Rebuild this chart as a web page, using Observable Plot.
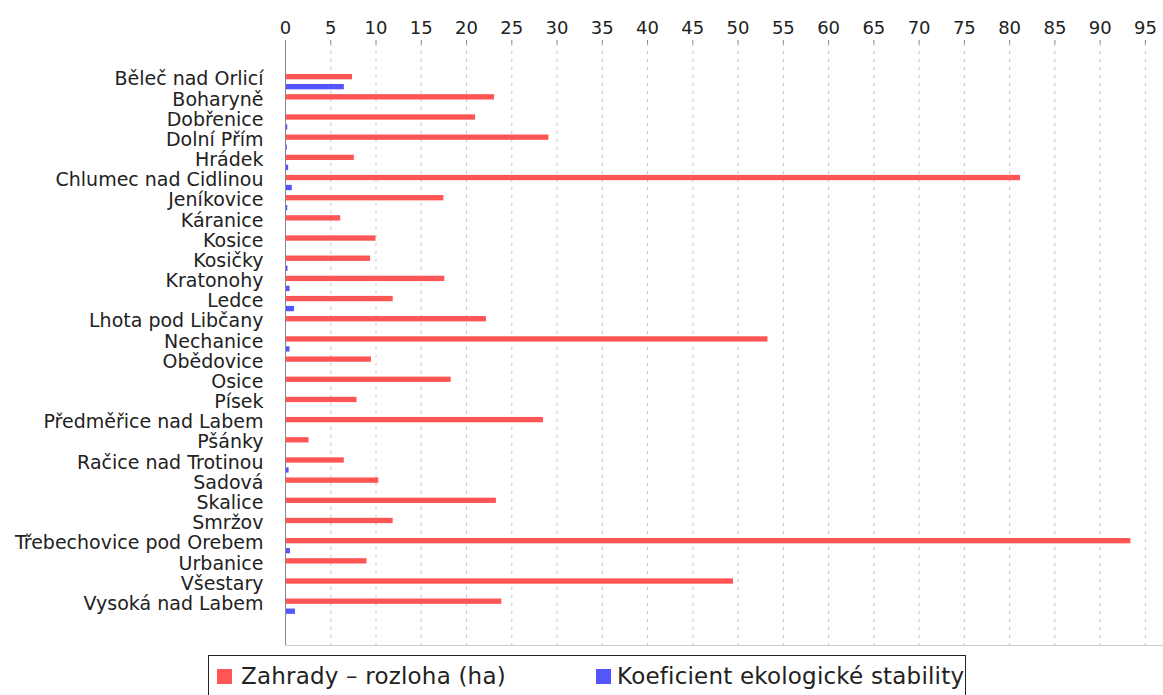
<!DOCTYPE html>
<html>
<head>
<meta charset="utf-8">
<script src="https://cdn.jsdelivr.net/npm/d3@7"></script>
<script src="https://cdn.jsdelivr.net/npm/@observablehq/plot@0.6"></script>
<style>
  html, body { margin: 0; padding: 0; background: #fff; }
  #chart svg { display: block; }
  .legend {
    margin-left: 208px; margin-top: 7px; width: 758px; height: 44px;
    border: 1.5px solid #222; box-sizing: border-box;
    font-family: "DejaVu Sans", sans-serif; font-size: 23px; color: #222;
    position: relative; letter-spacing: 0.2px;
  }
  .legend .item { position: absolute; top: 7px; display: flex; align-items: center; }
  .legend .sw { width: 15px; height: 15px; }
</style>
</head>
<body>
<div id="chart"></div>
<div class="legend">
  <div class="item" style="left:8px"><span class="sw" style="background:#FF5555;margin-right:9px"></span><span id="l1"></span></div>
  <div class="item" style="left:387px"><span class="sw" style="background:#5555FF;margin-right:6px"></span><span id="l2"></span></div>
</div>
<script>
const towns = ["Běleč nad Orlicí","Boharyně","Dobřenice","Dolní Přím","Hrádek","Chlumec nad Cidlinou","Jeníkovice","Káranice","Kosice","Kosičky","Kratonohy","Ledce","Lhota pod Libčany","Nechanice","Obědovice","Osice","Písek","Předměřice nad Labem","Pšánky","Račice nad Trotinou","Sadová","Skalice","Smržov","Třebechovice pod Orebem","Urbanice","Všestary","Vysoká nad Labem"];
const zahrady = [7.4,23.1,21.0,29.1,7.6,81.2,17.5,6.1,10.0,9.4,17.6,11.9,22.2,53.3,9.5,18.3,7.9,28.5,2.6,6.5,10.3,23.3,11.9,93.4,9.0,49.5,23.9];
const koeficient = [6.5,0.05,0.25,0.2,0.35,0.75,0.25,0.05,0.05,0.28,0.5,1.0,0.05,0.5,0.05,0.05,0.05,0.05,0.05,0.4,0.1,0.05,0.05,0.55,0.05,0.05,1.1];
const seriesNames = ["Zahrady – rozloha (ha)", "Koeficient ekologické stability"];
const seriesColors = ["#FF5555", "#5555FF"];
const xTicks = [0,5,10,15,20,25,30,35,40,45,50,55,60,65,70,75,80,85,90,95];

const redData = towns.map((t, i) => ({town: t, value: zahrady[i]}));
const blueData = towns.map((t, i) => ({town: t, value: koeficient[i]}));

const chart = Plot.plot({
  width: 1163,
  height: 648,
  marginTop: 43,
  marginBottom: 3,
  marginLeft: 285,
  marginRight: 0,
  style: {fontFamily: "DejaVu Sans, sans-serif", fontSize: "19px", color: "#222", background: "#fff"},
  x: {domain: [0, 97], axis: null},
  y: {domain: towns, paddingInner: 0, paddingOuter: 1.42, round: false, axis: null},
  marks: [
    Plot.frame({anchor: "bottom", stroke: "#cccccc"}),
    Plot.gridX(xTicks, {stroke: "#c4c4c4", strokeOpacity: 1, strokeDasharray: "3,5"}),
    Plot.barX(redData, {x: "value", y: "town", fill: seriesColors[0], insetTop: 2.35, insetBottom: 12.5}),
    Plot.barX(blueData, {x: "value", y: "town", fill: seriesColors[1], insetTop: 12.35, insetBottom: 2.5}),
    Plot.ruleX([0], {stroke: "#888"}),
    Plot.axisX({anchor: "top", ticks: xTicks, tickSize: 4, tickPadding: 6, line: true, stroke: "#888", fill: "#222", label: null, fontSize: 18}),
    Plot.axisY({anchor: "left", tickSize: 0, tickPadding: 22, dy: -3, fill: "#222", label: null})
  ]
});
document.getElementById("chart").appendChild(chart);
document.getElementById("l1").textContent = seriesNames[0];
document.getElementById("l2").textContent = seriesNames[1];
</script>
</body>
</html>
